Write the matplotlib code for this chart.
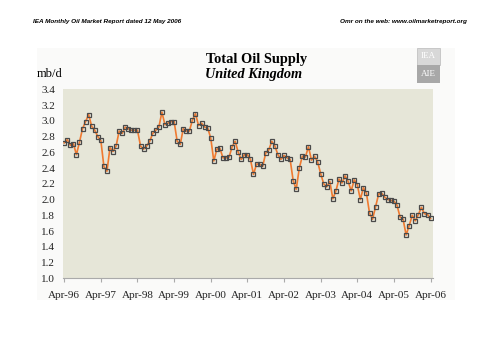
import matplotlib
matplotlib.use("Agg")
import matplotlib.pyplot as plt
from matplotlib.patches import Rectangle

# UK total oil supply, mb/d, monthly Apr-96 .. Apr-06
supply = [
    2.72, 2.76, 2.69, 2.71, 2.57, 2.73, 2.90, 2.99, 3.08, 2.93, 2.88, 2.80,
    2.75, 2.42, 2.36, 2.66, 2.61, 2.68, 2.87, 2.84, 2.92, 2.90, 2.88, 2.88,
    2.88, 2.68, 2.64, 2.68, 2.74, 2.84, 2.88, 2.92, 3.11, 2.95, 2.97, 2.99,
    2.99, 2.74, 2.70, 2.90, 2.87, 2.87, 3.01, 3.09, 2.94, 2.97, 2.92, 2.91,
    2.78, 2.49, 2.64, 2.65, 2.53, 2.53, 2.54, 2.67, 2.74, 2.60, 2.51, 2.57,
    2.57, 2.51, 2.32, 2.45, 2.45, 2.42, 2.59, 2.63, 2.74, 2.68, 2.57, 2.51,
    2.56, 2.53, 2.51, 2.24, 2.13, 2.40, 2.55, 2.54, 2.67, 2.50, 2.55, 2.48,
    2.33, 2.20, 2.16, 2.23, 2.01, 2.11, 2.26, 2.21, 2.30, 2.23, 2.11, 2.25,
    2.19, 2.00, 2.15, 2.08, 1.83, 1.75, 1.91, 2.07, 2.08, 2.03, 2.00, 1.99,
    1.98, 1.93, 1.78, 1.75, 1.55, 1.67, 1.80, 1.73, 1.81, 1.90, 1.82, 1.81,
    1.76,
]
year_labels = ["Apr-96", "Apr-97", "Apr-98", "Apr-99", "Apr-00", "Apr-01",
               "Apr-02", "Apr-03", "Apr-04", "Apr-05", "Apr-06"]
y_ticks = [1.0, 1.2, 1.4, 1.6, 1.8, 2.0, 2.2, 2.4, 2.6, 2.8, 3.0, 3.2, 3.4]

serif = "Liberation Serif"

fig = plt.figure(figsize=(5, 3.53), dpi=100)
fig.patch.set_facecolor("white")

# faint panel behind the chart
fig.add_artist(Rectangle((0.074, 0.15), 0.836, 0.715, transform=fig.transFigure,
                         facecolor="#fafaf9", edgecolor="none", zorder=-10))

ax = fig.add_axes([0.1266, 0.2116, 0.7394, 0.5354])
ax.set_zorder(5)
ax.set_facecolor("#e6e6d8")

months = list(range(len(supply)))
ax.plot(months, supply, color="#f07a30", lw=1.2, marker="s", markersize=3.4,
        markerfacecolor="none", markeredgecolor="#4a4a4a", markeredgewidth=0.9)

ax.set_xlim(-0.3, 120.8)
ax.set_ylim(1.0, 3.4)
ax.set_yticks(y_ticks, labels=[f"{v:.1f}" for v in y_ticks])
ax.set_xticks(list(range(0, 121, 12)), labels=year_labels)
for lab in ax.get_xticklabels() + ax.get_yticklabels():
    lab.set_fontfamily(serif)
    lab.set_fontsize(8)
    lab.set_color("#222222")

for side in ["left", "right", "top"]:
    ax.spines[side].set_visible(False)
ax.spines["bottom"].set_color("#aaaaaa")
ax.spines["bottom"].set_linewidth(0.8)
ax.tick_params(axis="y", length=0, pad=6)
ax.tick_params(axis="x", length=3, color="#aaaaaa", pad=6)

fig.text(0.074, 0.79, "mb/d", fontfamily=serif, fontsize=9, ha="left", va="center")
fig.text(0.514, 0.832, "Total Oil Supply", fontfamily=serif, fontsize=10.4,
         fontweight="bold", ha="center", va="center")
fig.text(0.507, 0.79, "United Kingdom", fontfamily=serif, fontsize=10.3,
         fontweight="bold", fontstyle="italic", ha="center", va="center")

fig.text(0.066, 0.94, "IEA Monthly Oil Market Report dated 12 May 2006",
         fontfamily="Liberation Sans", fontsize=4.6, fontweight="bold",
         fontstyle="italic", ha="left", va="center")
fig.text(0.934, 0.94, "Omr on the web: www.oilmarketreport.org",
         fontfamily="Liberation Sans", fontsize=4.6, fontweight="bold",
         fontstyle="italic", ha="right", va="center")

# IEA / AIE logo blocks
fig.add_artist(Rectangle((0.834, 0.815), 0.046, 0.05, transform=fig.transFigure,
                         facecolor="#d8d8d8", edgecolor="#bbbbbb", lw=0.5))
fig.add_artist(Rectangle((0.834, 0.765), 0.046, 0.05, transform=fig.transFigure,
                         facecolor="#a8a8a8", edgecolor="none"))
fig.text(0.857, 0.84, "IEA", fontfamily=serif, fontsize=6.5, color="white",
         ha="center", va="center")
fig.text(0.857, 0.79, "AIE", fontfamily=serif, fontsize=6.5, color="white",
         ha="center", va="center")

fig.savefig("out.png", dpi=100)
plt.close(fig)
